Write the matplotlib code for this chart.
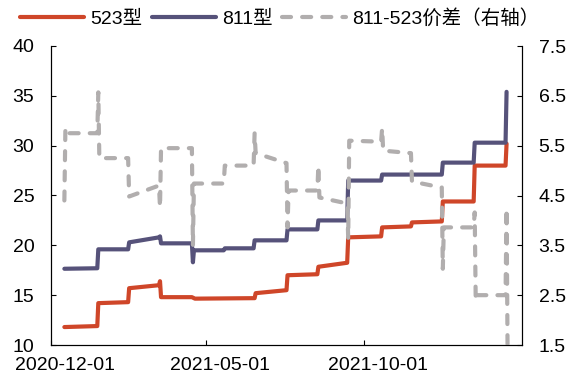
import matplotlib
matplotlib.use("Agg")
import matplotlib.pyplot as plt
import matplotlib.dates as mdates
import matplotlib.transforms as mtransforms
import pandas as pd

plt.rcParams["font.family"] = ["Liberation Sans", "Noto Sans CJK SC", "DejaVu Sans"]
plt.rcParams["font.size"] = 14
plt.rcParams["lines.scale_dashes"] = False

# 523 price (left axis)
dates_523 = ["2020-12-14", "2021-01-15", "2021-01-16", "2021-02-14", "2021-02-15",
             "2021-03-16", "2021-03-17", "2021-03-18", "2021-04-17", "2021-04-20",
             "2021-06-17", "2021-06-18", "2021-07-18", "2021-07-19", "2021-08-17",
             "2021-08-18", "2021-09-15", "2021-09-16", "2021-10-18", "2021-10-19",
             "2021-11-16", "2021-11-17", "2021-12-16", "2021-12-17", "2022-01-16",
             "2022-01-17", "2022-02-16", "2022-02-17"]
vals_523 = [11.8, 11.9, 14.2, 14.3, 15.7,
            16.0, 16.4, 14.8, 14.8, 14.65,
            14.7, 15.2, 15.5, 17.0, 17.1,
            17.85, 18.25, 20.8, 20.9, 21.8,
            21.9, 22.3, 22.4, 24.4, 24.4,
            28.0, 28.0, 30.2]

# 811 price (left axis)
dates_811 = ["2020-12-14", "2021-01-15", "2021-01-16", "2021-02-14", "2021-02-15",
             "2021-03-16", "2021-03-17", "2021-03-18", "2021-04-17", "2021-04-18",
             "2021-04-19", "2021-05-18", "2021-05-19", "2021-06-16", "2021-06-17",
             "2021-07-18", "2021-07-19", "2021-08-17", "2021-08-18", "2021-09-15",
             "2021-09-16", "2021-10-18", "2021-10-19", "2021-12-16", "2021-12-17",
             "2022-01-16", "2022-01-17", "2022-02-16", "2022-02-17"]
vals_811 = [17.65, 17.7, 19.6, 19.6, 20.3,
            20.8, 20.9, 20.2, 20.2, 18.3,
            19.5, 19.5, 19.7, 19.7, 20.5,
            20.5, 21.6, 21.6, 22.5, 22.5,
            26.5, 26.5, 27.1, 27.1, 28.3,
            28.3, 30.3, 30.3, 35.4]

# 811-523 spread (right axis)
dates_spread = ["2020-12-14", "2020-12-15", "2020-12-16", "2021-01-15", "2021-01-16",
                "2021-01-17", "2021-02-14", "2021-02-15", "2021-03-16", "2021-03-17",
                "2021-03-18", "2021-04-17", "2021-04-18", "2021-04-19", "2021-05-18",
                "2021-05-19", "2021-06-16", "2021-06-17", "2021-06-18", "2021-07-18",
                "2021-07-19", "2021-07-20", "2021-08-17", "2021-08-18", "2021-08-19",
                "2021-09-15", "2021-09-16", "2021-09-17", "2021-10-18", "2021-10-19",
                "2021-10-20", "2021-11-16", "2021-11-17", "2021-12-16", "2021-12-17",
                "2021-12-18", "2022-01-16", "2022-01-17", "2022-01-18", "2022-01-19",
                "2022-02-16", "2022-02-17", "2022-02-18"]
vals_spread = [4.4, 5.85, 5.75, 5.75, 6.57,
               5.25, 5.25, 4.48, 4.7, 4.26,
               5.45, 5.45, 3.5, 4.74, 4.74,
               5.1, 5.1, 5.75, 5.35, 5.15,
               3.86, 4.6, 4.6, 5.1, 4.46,
               4.34, 3.64, 5.6, 5.58, 5.85,
               5.4, 5.35, 4.78, 4.66, 3.03,
               3.86, 3.86, 4.16, 2.39, 2.5,
               2.5, 4.24, 1.3]

x_ticks = ["2020-12-01", "2021-05-01", "2021-10-01"]
left_ticks = [10, 15, 20, 25, 30, 35, 40]
right_ticks = [1.5, 2.5, 3.5, 4.5, 5.5, 6.5, 7.5]

RED = "#CF4629"
PURPLE = "#56527A"
GRAY = "#B1AEAE"

fig = plt.figure(figsize=(5.69, 3.76), dpi=100)
ax = fig.add_axes([51 / 569, 31 / 376, 471 / 569, 299 / 376])

l1, = ax.plot(pd.to_datetime(dates_523), vals_523, color=RED, lw=3,
              solid_capstyle="round", solid_joinstyle="round", label="523型")
l2, = ax.plot(pd.to_datetime(dates_811), vals_811, color=PURPLE, lw=3,
              solid_capstyle="round", solid_joinstyle="round", label="811型")

ax2 = ax.twinx()
l3, = ax2.plot(pd.to_datetime(dates_spread), vals_spread, color=GRAY, lw=3,
               dashes=(6.5, 8), dash_capstyle="round", dash_joinstyle="round",
               label="811-523价差（右轴）")

ax.set_xlim(pd.Timestamp("2020-12-01"), pd.Timestamp("2022-03-04"))
ax.set_ylim(10, 40)
ax.set_yticks(left_ticks)
ax2.set_ylim(1.5, 7.5)
ax2.set_yticks(right_ticks)
ax2.set_yticklabels([f"{t:.1f}" for t in right_ticks])

ax.set_xticks(pd.to_datetime(x_ticks))
ax.xaxis.set_major_formatter(mdates.DateFormatter("%Y-%m-%d"))

for a in (ax, ax2):
    a.spines["top"].set_visible(False)
    for s in ("left", "right", "bottom"):
        a.spines[s].set_linewidth(0.8)
    a.tick_params(direction="in", length=3.6, width=0.8, pad=12, labelsize=14)
ax.tick_params(axis="x", pad=9)

# excel shifts the date labels a little right of the ticks
shift = mtransforms.ScaledTranslation(14 / 100, 0, fig.dpi_scale_trans)
for lbl in ax.get_xticklabels():
    lbl.set_transform(lbl.get_transform() + shift)

fig.legend([l1, l2, l3], [l1.get_label(), l2.get_label(), l3.get_label()],
           loc="upper left", bbox_to_anchor=(20 / 569, 1 - 9 / 376), ncol=3,
           frameon=False, handlelength=3.3, handletextpad=0.3, columnspacing=0.5,
           borderpad=0, borderaxespad=0, fontsize=14)

fig.savefig("out.png", dpi=100)
